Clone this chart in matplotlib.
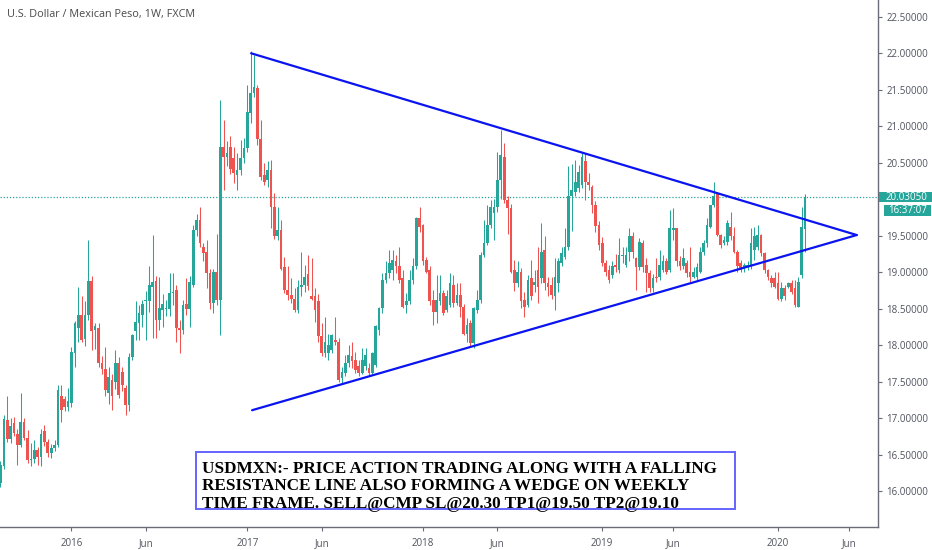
import matplotlib
matplotlib.use("Agg")
import matplotlib.pyplot as plt
import matplotlib.dates as mdates
import matplotlib.transforms as mtransforms
from matplotlib.patches import Rectangle
import numpy as np
import pandas as pd

# weekly USD/MXN candles, first bar week of 2015-08-10
opens = [
    16.11, 16.34, 16.98, 16.72, 16.93, 16.79, 16.63, 16.95, 16.73, 16.43,
    16.44, 16.57, 16.47, 16.82, 16.68, 16.52, 16.59, 16.63, 17.30, 17.27,
    17.16, 17.21, 17.89, 18.23, 18.42, 18.09, 18.42, 18.88, 18.21, 18.23,
    17.75, 17.68, 17.34, 17.52, 17.50, 17.76, 17.63, 17.41, 17.18, 17.84,
    18.19, 18.30, 18.41, 18.60, 18.60, 18.80, 18.88, 18.35, 18.48, 18.49,
    18.49, 18.71, 18.76, 18.23, 18.21, 18.57, 18.50, 18.83, 19.58, 19.72,
    19.35, 19.28, 18.99, 18.58, 19.00, 18.62, 20.72, 20.58, 20.72, 20.56,
    20.33, 20.40, 20.56, 20.70, 21.18, 21.45, 21.52, 20.83, 20.33, 20.26,
    20.40, 19.90, 19.49, 19.58, 19.07, 18.76, 18.69, 18.64, 18.48, 18.80,
    18.82, 18.97, 18.67, 18.67, 18.60, 18.12, 17.89, 17.89, 17.94, 18.07,
    18.05, 17.55, 17.62, 17.75, 17.85, 17.80, 17.71, 17.62, 17.71, 17.69,
    17.62, 17.73, 18.21, 18.51, 18.90, 18.99, 19.03, 19.15, 19.08, 18.92,
    18.55, 18.60, 18.89, 19.08, 19.74, 19.65, 19.17, 19.03, 18.62, 18.46,
    18.60, 18.71, 18.48, 18.55, 18.83, 18.58, 18.69, 18.53, 18.16, 18.30,
    18.03, 18.48, 18.62, 19.24, 19.40, 19.65, 19.81, 19.90, 20.26, 20.58,
    19.99, 19.88, 19.03, 18.85, 19.01, 18.62, 18.55, 18.92, 18.83, 19.03,
    18.92, 19.30, 18.85, 18.83, 18.67, 18.85, 19.12, 19.21, 19.35, 20.04,
    20.10, 20.15, 20.20, 20.52, 20.24, 20.17, 19.92, 19.65, 19.40, 19.12,
    19.03, 18.96, 19.10, 19.03, 19.22, 19.10, 19.28, 19.49, 19.19, 19.07,
    19.40, 19.10, 18.99, 18.78, 18.94, 18.94, 19.03, 19.15, 19.03, 19.58,
    19.60, 19.15, 19.08, 19.12, 19.01, 18.94, 18.94, 19.01, 19.28, 19.40,
    19.62, 19.92, 20.08, 19.51, 19.40, 19.42, 19.62, 19.49, 19.28, 19.12,
    19.07, 19.07, 19.08, 19.31, 19.35, 19.51, 19.26, 19.03, 18.92, 18.92,
    18.85, 18.64, 18.78, 18.80, 18.85, 18.78, 18.53, 18.96, 19.59,
]
highs = [
    16.42, 17.05, 17.30, 17.00, 17.02, 16.85, 17.34, 17.00, 16.84, 16.66,
    16.70, 16.60, 16.85, 16.91, 16.72, 16.65, 16.70, 17.45, 17.46, 17.30,
    17.41, 17.98, 18.33, 18.80, 18.67, 18.60, 19.44, 18.95, 18.30, 18.30,
    17.85, 17.98, 17.70, 17.60, 17.93, 17.84, 17.70, 17.45, 17.90, 18.16,
    18.60, 18.55, 18.62, 18.75, 19.08, 19.51, 18.95, 18.94, 18.70, 18.62,
    18.99, 18.99, 18.82, 18.35, 18.62, 18.92, 18.95, 19.65, 19.80, 19.90,
    19.40, 19.44, 19.05, 19.05, 19.53, 21.36, 21.09, 20.80, 20.86, 20.72,
    20.63, 20.81, 20.84, 21.56, 22.03, 21.98, 21.57, 21.08, 20.50, 20.52,
    20.54, 20.08, 19.90, 19.72, 19.21, 19.08, 18.92, 18.78, 18.90, 19.28,
    19.10, 19.24, 19.19, 18.78, 18.70, 18.30, 18.39, 18.16, 18.16, 18.39,
    18.10, 17.70, 17.87, 18.00, 18.05, 17.91, 17.80, 17.96, 17.96, 17.75,
    17.91, 18.28, 18.53, 18.99, 19.15, 19.31, 19.31, 19.24, 19.35, 19.03,
    18.71, 19.03, 19.19, 19.76, 19.90, 19.66, 19.21, 19.08, 18.76, 18.96,
    18.96, 18.76, 18.76, 18.99, 18.96, 18.85, 18.85, 18.56, 18.37, 18.35,
    18.53, 18.76, 19.28, 19.72, 19.92, 19.99, 20.01, 20.65, 20.95, 20.77,
    20.04, 19.93, 19.17, 19.15, 19.06, 18.73, 18.96, 19.17, 19.03, 19.35,
    19.67, 19.49, 18.94, 18.94, 19.19, 19.19, 19.35, 19.60, 20.45, 20.49,
    20.54, 20.47, 20.63, 20.63, 20.36, 20.20, 19.97, 19.70, 19.48, 19.17,
    19.10, 19.15, 19.25, 19.47, 19.35, 19.35, 19.60, 19.55, 19.21, 19.47,
    19.44, 19.19, 19.03, 18.97, 19.19, 19.31, 19.24, 19.20, 19.85, 19.88,
    19.61, 19.22, 19.33, 19.17, 19.35, 19.07, 19.12, 19.35, 19.44, 19.74,
    19.92, 20.24, 20.10, 19.53, 19.49, 19.72, 19.83, 19.62, 19.31, 19.17,
    19.12, 19.15, 19.60, 19.62, 19.65, 19.53, 19.28, 19.05, 18.96, 19.01,
    19.01, 18.87, 18.82, 18.87, 18.90, 18.89, 18.94, 19.90, 20.07,
]
lows = [
    16.06, 16.30, 16.68, 16.66, 16.76, 16.36, 16.60, 16.70, 16.38, 16.34,
    16.38, 16.36, 16.35, 16.62, 16.47, 16.45, 16.55, 16.60, 16.95, 17.10,
    17.10, 17.15, 17.70, 18.05, 18.05, 17.99, 18.35, 17.94, 17.95, 17.70,
    17.60, 17.31, 17.20, 17.11, 17.40, 17.28, 17.38, 17.05, 17.10, 17.80,
    18.07, 18.07, 18.25, 18.07, 18.45, 18.10, 18.10, 18.21, 18.25, 18.40,
    18.40, 18.55, 18.05, 17.90, 18.15, 18.42, 18.25, 18.80, 19.50, 19.35,
    19.15, 18.78, 18.50, 18.44, 18.55, 18.14, 20.13, 20.45, 20.35, 20.22,
    20.13, 20.33, 20.50, 20.65, 21.05, 21.40, 20.75, 20.27, 20.20, 20.17,
    19.60, 19.46, 19.44, 19.03, 18.72, 18.62, 18.58, 18.46, 18.44, 18.67,
    18.73, 18.76, 18.62, 18.32, 18.05, 17.85, 17.84, 17.80, 17.90, 18.00,
    17.50, 17.48, 17.58, 17.70, 17.69, 17.62, 17.58, 17.60, 17.66, 17.58,
    17.60, 17.70, 18.14, 18.44, 18.85, 18.92, 18.90, 18.99, 18.85, 18.51,
    18.44, 18.57, 18.84, 19.05, 19.55, 19.10, 18.99, 18.55, 18.28, 18.30,
    18.55, 18.42, 18.45, 18.52, 18.53, 18.55, 18.39, 18.14, 18.05, 17.98,
    17.96, 18.44, 18.58, 19.21, 19.38, 19.60, 19.44, 19.83, 20.01, 19.95,
    19.53, 18.99, 18.74, 18.80, 18.51, 18.39, 18.53, 18.62, 18.73, 18.58,
    18.85, 18.76, 18.67, 18.64, 18.48, 18.73, 19.08, 19.18, 19.30, 19.56,
    20.05, 20.10, 20.15, 19.99, 20.13, 19.81, 19.55, 19.30, 19.08, 18.95,
    18.85, 18.92, 19.00, 18.99, 19.12, 19.07, 19.15, 19.20, 18.76, 19.03,
    19.01, 18.73, 18.73, 18.73, 18.87, 18.90, 19.00, 18.97, 19.00, 19.44,
    19.08, 19.03, 19.05, 18.94, 18.87, 18.92, 18.90, 18.99, 19.24, 19.35,
    19.60, 19.90, 19.49, 19.33, 19.37, 19.37, 19.44, 19.26, 19.01, 19.01,
    19.01, 19.03, 19.05, 19.17, 19.30, 19.22, 18.99, 18.89, 18.80, 18.78,
    18.62, 18.60, 18.62, 18.78, 18.70, 18.53, 18.52, 18.92, 19.28,
]
closes = [
    16.36, 16.99, 16.72, 16.90, 16.80, 16.63, 16.95, 16.73, 16.43, 16.44,
    16.57, 16.47, 16.79, 16.68, 16.52, 16.59, 16.64, 17.39, 17.11, 17.16,
    17.23, 17.91, 18.30, 18.41, 18.07, 18.42, 18.88, 18.19, 18.26, 17.75,
    17.68, 17.39, 17.57, 17.30, 17.75, 17.32, 17.45, 17.18, 17.84, 18.14,
    18.32, 18.44, 18.57, 18.62, 18.83, 18.87, 18.35, 18.51, 18.57, 18.51,
    18.71, 18.73, 18.23, 18.21, 18.55, 18.50, 18.87, 19.58, 19.72, 19.40,
    19.26, 18.99, 18.58, 19.00, 18.62, 20.72, 20.58, 20.63, 20.42, 20.36,
    20.40, 20.56, 20.70, 21.20, 21.45, 21.54, 20.83, 20.31, 20.24, 20.40,
    19.90, 19.49, 19.58, 19.05, 18.76, 18.69, 18.64, 18.48, 18.80, 18.82,
    18.94, 18.81, 18.64, 18.48, 18.12, 17.89, 18.05, 18.00, 18.14, 18.05,
    17.53, 17.64, 17.75, 17.87, 17.78, 17.66, 17.62, 17.80, 17.87, 17.62,
    17.89, 18.26, 18.51, 18.90, 18.99, 19.12, 19.17, 19.08, 18.90, 18.53,
    18.60, 18.89, 19.08, 19.74, 19.62, 19.15, 19.01, 18.60, 18.46, 18.62,
    18.71, 18.44, 18.67, 18.85, 18.58, 18.69, 18.53, 18.16, 18.28, 18.03,
    18.51, 18.62, 19.24, 19.40, 19.65, 19.90, 19.90, 20.26, 20.61, 19.99,
    19.88, 19.01, 18.85, 19.01, 18.60, 18.53, 18.89, 18.67, 18.87, 18.80,
    19.28, 18.85, 18.80, 18.69, 18.94, 19.15, 19.26, 19.35, 20.04, 20.13,
    20.24, 20.38, 20.58, 20.24, 20.20, 19.92, 19.63, 19.37, 19.12, 19.01,
    18.90, 19.08, 19.07, 19.24, 19.24, 19.24, 19.49, 19.28, 19.07, 19.42,
    19.07, 18.99, 18.78, 18.92, 18.92, 19.10, 19.15, 19.01, 19.60, 19.60,
    19.15, 19.08, 19.19, 18.99, 18.94, 19.01, 19.07, 19.28, 19.40, 19.65,
    19.92, 20.04, 19.51, 19.37, 19.44, 19.67, 19.49, 19.28, 19.08, 19.03,
    19.10, 19.10, 19.40, 19.49, 19.51, 19.26, 19.03, 18.94, 18.85, 18.80,
    18.64, 18.78, 18.67, 18.85, 18.73, 18.55, 18.87, 19.62, 20.03,
]

last_price = 20.03050
clock_text = "16:37:07"

# hand drawn trend lines (start, apex)
upper_dates = ["2017-01-10", "2020-06-17"]
upper_prices = [22.00, 19.51]
lower_dates = ["2017-01-12", "2020-06-17"]
lower_prices = [17.11, 19.51]

tick_dates = ["2016-01-04", "2016-06-06", "2017-01-02", "2017-06-05",
              "2018-01-01", "2018-06-04", "2019-01-07", "2019-06-03",
              "2020-01-06", "2020-06-01"]
tick_labels = ["2016", "Jun", "2017", "Jun", "2018", "Jun", "2019", "Jun",
               "2020", "Jun"]
price_ticks = [16.0, 16.5, 17.0, 17.5, 18.0, 18.5, 19.0, 19.5, 20.0,
               20.5, 21.0, 21.5, 22.0, 22.5]

title = "U.S. Dollar / Mexican Peso, 1W, FXCM"
note_lines = ["USDMXN:- PRICE ACTION TRADING ALONG WITH A FALLING",
              "RESISTANCE LINE ALSO FORMING A WEDGE ON WEEKLY",
              "TIME FRAME. SELL@CMP SL@20.30 TP1@19.50 TP2@19.10"]

UP = "#26a69a"
DOWN = "#ef5350"
TXT = "#50535e"

dates = pd.date_range("2015-08-10", periods=len(closes), freq="7D")
xs = mdates.date2num(dates)
o = np.array(opens)
h = np.array(highs)
l = np.array(lows)
c = np.array(closes)
cols = [UP if cc >= oo else DOWN for oo, cc in zip(o, c)]

fig = plt.figure(figsize=(9.32, 5.5), dpi=100)
ax = fig.add_axes([0, 23 / 550, 878 / 932, 527 / 550])

ax.vlines(xs, l, h, colors=cols, lw=0.75, zorder=2)
body_low = np.minimum(o, c)
body_h = np.maximum(np.abs(c - o), 0.015)
ax.bar(xs, body_h, bottom=body_low, width=5.6, color=cols, linewidth=0, zorder=3)

ax.plot(mdates.date2num(pd.to_datetime(upper_dates)), upper_prices,
        color="#0a14f0", lw=1.6, zorder=4, solid_capstyle="round")
ax.plot(mdates.date2num(pd.to_datetime(lower_dates)), lower_prices,
        color="#0a14f0", lw=1.6, zorder=4, solid_capstyle="round")

ax.axhline(last_price, color=UP, lw=0.9, ls=(0, (1, 1.5)), zorder=1)

ax.set_xlim(mdates.date2num(pd.Timestamp("2015-08-09")),
            mdates.date2num(pd.Timestamp("2020-07-31")))
ax.set_ylim(15.51, 22.73)

ax.set_xticks(mdates.date2num(pd.to_datetime(tick_dates)))
ax.set_xticklabels(tick_labels)
ax.yaxis.tick_right()
ax.set_yticks(price_ticks)
# the 20.00000 label sits under the last-price tag, as on the reference
ax.set_yticklabels(["" if abs(p - last_price) < 0.12 else "%.5f" % p
                    for p in price_ticks])

for s in ["left", "top"]:
    ax.spines[s].set_visible(False)
for s in ["right", "bottom"]:
    ax.spines[s].set_color("#6a6d78")
    ax.spines[s].set_linewidth(1.0)
ax.tick_params(axis="both", colors="#6a6d78", labelcolor=TXT, labelsize=7,
               length=3, width=0.8)
ax.tick_params(axis="y", pad=3)
ax.tick_params(axis="x", pad=5)
for lab in ax.get_xticklabels() + ax.get_yticklabels():
    lab.set_fontfamily("Open Sans")

# last price / countdown tags on the price scale (pixel units)
ident = mtransforms.IdentityTransform()
y_pix = ax.transData.transform((xs[-1], last_price))[1]
fig.add_artist(Rectangle((879, y_pix - 5.3), 53, 10.6, transform=ident,
                         fc=UP, ec="none"))
fig.text(906, y_pix, "%.5f" % last_price, transform=ident, ha="center",
         va="center", fontsize=7, color="white", fontfamily="Open Sans")
fig.add_artist(Rectangle((884, y_pix - 18.6), 47, 10.6, transform=ident,
                         fc=UP, ec="none"))
fig.text(907.5, y_pix - 13.3, clock_text, transform=ident, ha="center",
         va="center", fontsize=7, color="white", fontfamily="Open Sans")

fig.text(7 / 932, 1 - 14 / 550, title, ha="left", va="center", fontsize=7.8,
         color="#4a4a4a", fontfamily="Open Sans")

# text box drawn on chart
box = Rectangle((196 / 878, (527 - 509) / 527), (735 - 196) / 878, (509 - 452) / 527,
                transform=ax.transAxes, fc="white", ec="#6464ff", lw=1.4, zorder=6)
ax.add_patch(box)
for i, line in enumerate(note_lines):
    base = 473 + 17.3 * i
    ax.text(202 / 878, (527 - base) / 527, line, transform=ax.transAxes, ha="left",
            va="baseline", fontsize=12.3, fontweight="bold",
            fontfamily="Liberation Serif", color="black", zorder=7)

fig.savefig("out.png", dpi=100)
